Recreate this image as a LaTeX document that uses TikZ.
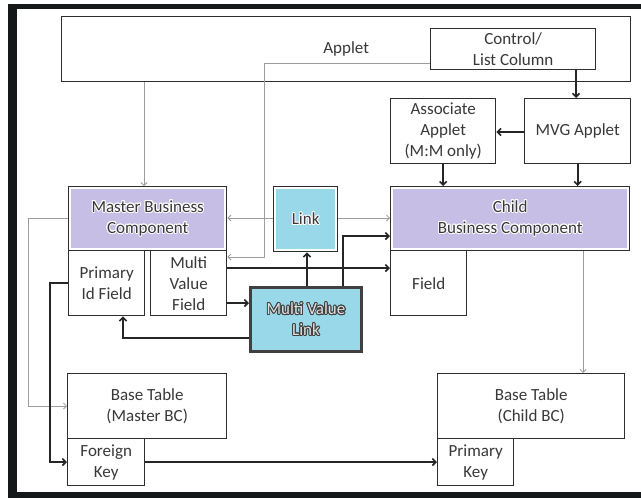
\documentclass[tikz,border=0pt]{standalone}
\usepackage{fontspec}
\setmainfont{Carlito}
\usepackage{contour}
\usetikzlibrary{arrows.meta}
\definecolor{framec}{HTML}{141818}
\definecolor{boxline}{HTML}{2E2E2E}
\definecolor{txt}{HTML}{383838}
\definecolor{lav}{HTML}{C6BEE4}
\definecolor{skyb}{HTML}{98D8E9}
\definecolor{mvlline}{HTML}{404040}
\definecolor{conngray}{HTML}{9C9C9C}
\contourlength{0.9pt}
\tikzset{
  box/.style={draw=boxline, line width=1.4pt, fill=white, inner sep=0pt,
    align=center, anchor=north west, text=txt,
    font=\fontsize{17}{21}\selectfont},
  inset/.style={path picture={\fill[#1]
      ([shift={(2.5pt,-2.5pt)}]path picture bounding box.north west) rectangle
      ([shift={(-2.5pt,2.5pt)}]path picture bounding box.south east);}},
  blk/.style={draw=black!85, line width=1.6pt,
    -{Straight Barb[length=3.5pt,width=7pt]}},
  gry/.style={draw=conngray, line width=0.8pt,
    -{Straight Barb[length=3pt,width=6pt]}}
}
% white glow behind labels on coloured fills
\newcommand{\halo}[1]{\contour{white}{#1}}
% light letters with a dark glow
\newcommand{\darkhalo}[1]{{\color{white!88!black}\contour{mvlline}{#1}}}
\begin{document}
\begin{tikzpicture}[x=1pt,y=-1pt]
\useasboundingbox (0,0) rectangle (641,498);
% dark frame around the sheet
\fill[framec] (8,4) rectangle (641,498);
\fill[white] (17,9) rectangle (641,492);

% applet layer
\node[box, minimum width=569pt, minimum height=65pt] (applet) at (61,16) {Applet};
\node[box, minimum width=165pt, minimum height=41pt] (control) at (430,28) {Control/\\List Column};
\node[box, minimum width=105pt, minimum height=65pt] (assoc) at (390,98) {Associate\\Applet\\(M:M only)};
\node[box, minimum width=106pt, minimum height=65pt] (mvg) at (524,98) {MVG Applet};

% business components
\node[box, inset=lav, minimum width=158pt, minimum height=64pt] (master) at (68,186) {\halo{Master Business}\\\halo{Component}};
\node[box, minimum width=76pt, minimum height=65pt] (primid) at (68,250) {Primary\\Id Field};
\node[box, minimum width=76pt, minimum height=65pt] (mvfield) at (150,250) {Multi\\Value\\Field};
\node[box, inset=skyb, minimum width=64pt, minimum height=65pt] (link) at (273,186) {\halo{Link}};
\node[box, inset=lav, minimum width=239pt, minimum height=64pt] (child) at (390,186) {\halo{Child}\\\halo{Business Component}};
\node[box, minimum width=76pt, minimum height=65pt] (field) at (390,250) {Field};
\node[box, draw=mvlline, line width=3pt, fill=skyb, minimum width=111pt, minimum height=64pt] (mvl) at (249,286) {\darkhalo{Multi Value}\\\darkhalo{Link}};

% base tables
\node[box, minimum width=159pt, minimum height=65pt] (btm) at (67,373) {Base Table\\(Master BC)};
\node[box, minimum width=77pt, minimum height=47pt] (fk) at (67,438) {Foreign\\Key};
\node[box, minimum width=187pt, minimum height=65pt] (btc) at (437,373) {Base Table\\(Child BC)};
\node[box, minimum width=76pt, minimum height=47pt] (pk) at (437,438) {Primary\\Key};

% routing columns and rows
\coordinate (xa) at (576,0);
\coordinate (xb) at (144,0);
\coordinate (xc) at (264,0);
\coordinate (xd) at (307,0);
\coordinate (xe) at (343,0);
\coordinate (xf) at (123,0);
\coordinate (xg) at (28,0);
\coordinate (xh) at (50,0);
\coordinate (xi) at (583,0);
\coordinate (ya) at (0,63);
\coordinate (yb) at (0,257);
\coordinate (yc) at (0,218);
\coordinate (yd) at (0,236);
\coordinate (ye) at (0,268);
\coordinate (yf) at (0,303);
\coordinate (yg) at (0,338);
\coordinate (yh) at (0,406);
\coordinate (yi) at (0,283);
\coordinate (yj) at (0,462);
\coordinate (yk) at (0,132);

% applet connectors
\draw[blk] (control.south -| xa) -- (mvg.north -| xa);
\draw[blk] (mvg.west |- yk) -- (assoc.east |- yk);
\draw[blk] (assoc.south) -- (assoc.south |- child.north);
\draw[blk] (mvg.south) -- (mvg.south |- child.north);
\draw[gry] (applet.south -| xb) -- (master.north -| xb);
\draw[gry] (control.west |- ya) -| (xc |- yb) -- (mvfield.east |- yb);

% link connectors
\draw[gry] (link.west |- yc) -- (master.east |- yc);
\draw[gry] (link.east |- yc) -- (child.west |- yc);
\draw[blk] (mvl.north -| xd) -- (link.south -| xd);
\draw[blk] (mvl.north -| xe) |- (child.west |- yd);
\draw[blk] (mvfield.east |- ye) -- (field.west |- ye);
\draw[blk] (mvfield.east |- yf) -- (mvl.west |- yf);
\draw[blk] (mvl.west |- yg) -| (primid.south -| xf);

% down to the tables
\draw[gry] (master.west |- yc) -| (xg |- yh) -- (btm.west |- yh);
\draw[blk] (primid.west |- yi) -| (xh |- yj) -- (fk.west |- yj);
\draw[blk] (fk.east |- yj) -- (pk.west |- yj);
\draw[gry] (child.south -| xi) -- (btc.north -| xi);
\end{tikzpicture}
\end{document}
